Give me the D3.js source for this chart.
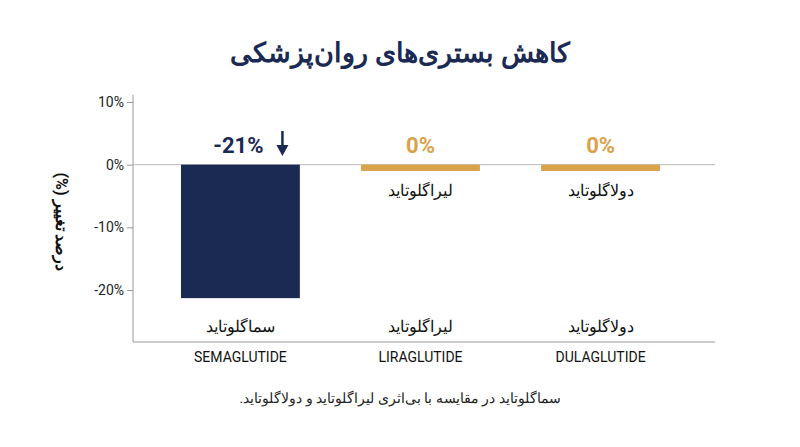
<!DOCTYPE html>
<html><head><meta charset="utf-8">
<script src="https://cdn.jsdelivr.net/npm/d3@7"></script>
<style>body{margin:0;background:#fff}text{font-family:Roboto,"Noto Sans",sans-serif}</style>
</head><body><svg id="c" width="800" height="447"></svg>
<script>
let drugs = ["SEMAGLUTIDE", "LIRAGLUTIDE", "DULAGLUTIDE"];
let drugsFa = ["سماگلوتاید", "لیراگلوتاید", "دولاگلوتاید"];
let values = [-21.3, -1, -1];
let valueLabels = ["-21%", "0%", "0%"];
let yTicks = [10, 0, -10, -20];

let navy = "#1b2a52", gold = "#d9a24b";
let svg = d3.select('#c');

let y = d3.scaleLinear().domain([10, -20]).range([102, 290]);
let x = d3.scaleBand().domain(drugs).range([181, 660]).paddingInner(0.34).paddingOuter(0);

svg.append('text').attr('x', 400).attr('y', 62).attr('text-anchor', 'middle')
    .attr('font-size', 27).attr('font-weight', 700).attr('fill', navy)
    .text('کاهش بستری‌های روان‌پزشکی');

// axes lines
svg.append('line').attr('x1', 133).attr('x2', 133).attr('y1', 95).attr('y2', 342).attr('stroke', '#999');
svg.append('line').attr('x1', 133).attr('x2', 715).attr('y1', 342).attr('y2', 342).attr('stroke', '#999');
svg.append('line').attr('x1', 133).attr('x2', 715).attr('y1', y(0)).attr('y2', y(0)).attr('stroke', '#bbb');

let ax = svg.append('g').attr('transform', 'translate(133,0)')
    .call(d3.axisLeft(y).tickValues(yTicks).tickFormat(d => d + '%').tickSize(6));
ax.select('.domain').remove();
ax.selectAll('line').attr('stroke', '#999');
ax.selectAll('text').attr('font-size', 14).attr('fill', '#222');

svg.append('text').attr('transform', 'translate(56,222) rotate(90)').attr('text-anchor', 'middle')
    .attr('direction', 'rtl').attr('font-family', '"DejaVu Sans", sans-serif')
    .attr('font-size', 16).attr('font-weight', 700).attr('fill', '#111').text('درصد تغییر (%)');

svg.selectAll('.bar').data(drugs).join('rect')
    .attr('x', d => x(d)).attr('width', x.bandwidth())
    .attr('y', y(0)).attr('height', (d, i) => y(values[i]) - y(0))
    .attr('fill', (d, i) => i === 0 ? navy : gold);

svg.selectAll('.vl').data(drugs).join('text')
    .attr('x', (d, i) => x(d) + x.bandwidth() / 2 - (i === 0 ? 2 : 0)).attr('y', 153)
    .attr('text-anchor', 'middle').attr('font-size', 22).attr('font-weight', 700)
    .attr('fill', (d, i) => i === 0 ? navy : gold).text((d, i) => valueLabels[i]);

// arrow
let ax0 = x(drugs[0]) + x.bandwidth() / 2 + 42;
svg.append('line').attr('x1', ax0).attr('x2', ax0).attr('y1', 131).attr('y2', 150).attr('stroke', navy).attr('stroke-width', 2.5);
svg.append('path').attr('d', `M${ax0 - 6},145 L${ax0},156 L${ax0 + 6},145 Z`).attr('fill', navy);

svg.selectAll('.fa1').data(drugs.slice(1)).join('text')
    .attr('x', d => x(d) + x.bandwidth() / 2).attr('y', 196).attr('text-anchor', 'middle')
    .attr('font-size', 16).attr('fill', '#111').text((d, i) => drugsFa[i + 1]);

svg.selectAll('.fa2').data(drugs).join('text')
    .attr('x', d => x(d) + x.bandwidth() / 2).attr('y', 332).attr('text-anchor', 'middle')
    .attr('font-size', 16).attr('fill', '#111').text((d, i) => drugsFa[i]);

svg.selectAll('.en').data(drugs).join('text')
    .attr('x', d => x(d) + x.bandwidth() / 2).attr('y', 362).attr('text-anchor', 'middle')
    .attr('font-size', 14).attr('fill', '#111').text(d => d);

svg.append('text').attr('x', 400).attr('y', 403).attr('text-anchor', 'middle').attr('direction', 'rtl')
    .attr('font-size', 14).attr('fill', '#222').text('سماگلوتاید در مقایسه با بی‌اثری لیراگلوتاید و دولاگلوتاید.');
</script></body></html>
